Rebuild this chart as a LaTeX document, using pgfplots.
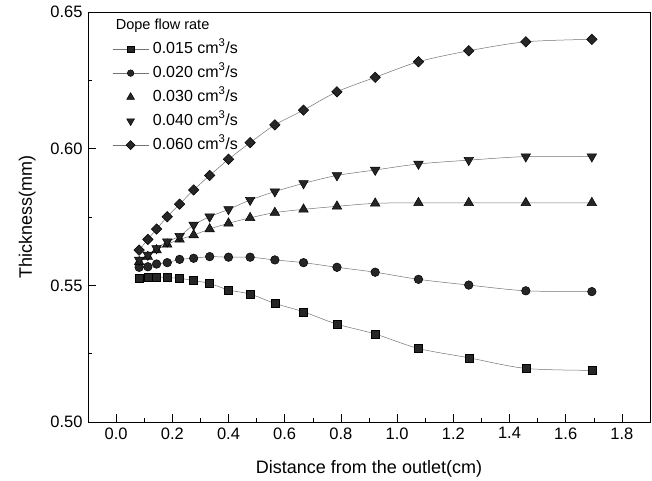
\documentclass[border=0pt]{standalone}
\usepackage{fontspec}
\setmainfont{Liberation Sans}
\usepackage{pgfplots}
\pgfplotsset{compat=1.18}
\begin{document}
\begin{tikzpicture}
\begin{axis}[
  scale only axis,
  width=562pt, height=410pt,
  xmin=-0.1, xmax=1.9, ymin=0.50, ymax=0.65,
  xtick={0,0.2,...,1.81}, minor x tick num=1,
  ytick={0.50,0.55,0.60,0.65}, minor y tick num=1,
  tick pos=left, tick align=inside,
  major tick length=8pt, minor tick length=4pt,
  every tick/.style={black, line width=0.6pt},
  axis line style={line width=0.8pt},
  /pgf/number format/assume math mode=true,
  xticklabel style={/pgf/number format/fixed, /pgf/number format/fixed zerofill, /pgf/number format/precision=1, font=\fontsize{16.5}{18}\selectfont, yshift=-2pt},
  yticklabel style={/pgf/number format/fixed, /pgf/number format/fixed zerofill, /pgf/number format/precision=2, font=\fontsize{16.5}{18}\selectfont, xshift=-2pt},
  scaled y ticks=false, scaled x ticks=false,
  xlabel={Distance from the outlet(cm)},
  ylabel={Thickness(mm)},
  xlabel style={font=\fontsize{18}{20}\selectfont, at={(axis description cs:0.5,-0.085)}, anchor=north},
  ylabel style={font=\fontsize{18}{20}\selectfont, at={(axis description cs:-0.087,0.5)}, anchor=south},
  legend image code/.code={\draw[mark repeat=2,mark phase=2,#1] plot coordinates {(0pt,0pt) (18pt,0pt) (36pt,0pt)};},
  legend style={at={(axis description cs:0.043,0.988)}, anchor=north west, draw=none, fill=none, inner sep=0pt,
    font=\fontsize{16}{18}\selectfont, row sep=8pt, column sep=4pt,
    nodes={inner sep=0pt, text height=12pt, text depth=4pt}},
  legend cell align=left,
]
\pgfplotsset{every axis plot/.append style={black!55, line width=0.5pt, smooth}}

\addplot[forget plot, mark=square*, mark size=4pt, mark options={black, fill=black!85, solid}] coordinates {
(0.082,0.5526)(0.113,0.5528)(0.144,0.5531)(0.182,0.5528)(0.226,0.5526)(0.276,0.5517)(0.333,0.5507)(0.400,0.5483)(0.477,0.5468)(0.565,0.5434)(0.667,0.5403)(0.786,0.5358)(0.922,0.5322)(1.076,0.5269)(1.255,0.5235)(1.458,0.5196)(1.693,0.5189)};

\addplot[forget plot, mark=*, mark size=4.3pt, mark options={black, fill=black!85, solid}] coordinates {
(0.082,0.5566)(0.113,0.5568)(0.144,0.5578)(0.182,0.5583)(0.226,0.5595)(0.276,0.5599)(0.333,0.5605)(0.400,0.5603)(0.477,0.5603)(0.565,0.5593)(0.667,0.5583)(0.786,0.5566)(0.922,0.5548)(1.076,0.5522)(1.255,0.5501)(1.458,0.5480)(1.693,0.5477)};

\addplot[forget plot, mark=triangle*, mark size=5.5pt, mark options={black, fill=black!85, solid}] coordinates {
(0.082,0.5586)(0.113,0.5605)(0.144,0.5629)(0.182,0.5650)(0.226,0.5668)(0.276,0.5684)(0.333,0.5706)(0.400,0.5727)(0.477,0.5747)(0.565,0.5766)(0.667,0.5778)(0.786,0.5789)(0.922,0.5800)(1.076,0.5802)(1.255,0.5802)(1.458,0.5802)(1.693,0.5802)};

\addplot[forget plot, mark=triangle*, mark size=5.5pt, mark options={black, fill=black!85, solid, rotate=180}] coordinates {
(0.082,0.5593)(0.113,0.5611)(0.144,0.5635)(0.182,0.5660)(0.226,0.5680)(0.276,0.5721)(0.333,0.5751)(0.400,0.5778)(0.477,0.5812)(0.565,0.5843)(0.667,0.5873)(0.786,0.5902)(0.922,0.5922)(1.076,0.5944)(1.255,0.5958)(1.458,0.5971)(1.693,0.5971)};

\addplot[forget plot, mark=square*, mark size=3.7pt, mark options={black, fill=black!85, solid, rotate=45}] coordinates {
(0.082,0.5629)(0.113,0.5668)(0.144,0.5706)(0.182,0.5751)(0.226,0.5797)(0.276,0.5849)(0.333,0.5902)(0.400,0.5961)(0.477,0.6022)(0.565,0.6087)(0.667,0.6141)(0.786,0.6208)(0.922,0.6261)(1.076,0.6318)(1.255,0.6358)(1.458,0.6391)(1.693,0.6400)};

\addlegendimage{empty legend}
\addlegendentry{\hspace*{-37pt}\fontsize{14.5}{16}\selectfont Dope flow rate}
\addlegendimage{black!55, line width=0.5pt, mark=square*, mark size=3.2pt, mark options={black, fill=black!85, solid}}
\addlegendentry{0.015 cm\textsuperscript{3}/s}
\addlegendimage{black!55, line width=0.5pt, mark=*, mark size=3.3pt, mark options={black, fill=black!85, solid}}
\addlegendentry{0.020 cm\textsuperscript{3}/s}
\addlegendimage{only marks, mark=triangle*, mark size=4.5pt, mark options={black, fill=black!85, solid}}
\addlegendentry{0.030 cm\textsuperscript{3}/s}
\addlegendimage{only marks, mark=triangle*, mark size=4.5pt, mark options={black, fill=black!85, solid, rotate=180}}
\addlegendentry{0.040 cm\textsuperscript{3}/s}
\addlegendimage{black!55, line width=0.5pt, mark=square*, mark size=3.2pt, mark options={black, fill=black!85, solid, rotate=45}}
\addlegendentry{0.060 cm\textsuperscript{3}/s}

\path (rel axis cs:0,0) coordinate (bl) (rel axis cs:1,1) coordinate (tr);
\end{axis}
\pgfresetboundingbox
\path[use as bounding box] ([shift={(-88pt,-58pt)}]bl) rectangle ([shift={(2pt,12pt)}]tr);
\end{tikzpicture}
\end{document}
